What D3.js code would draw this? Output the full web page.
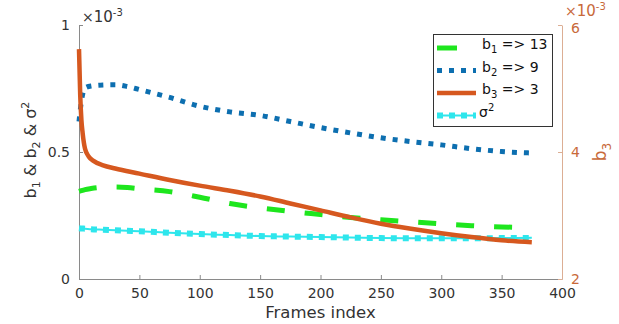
<!DOCTYPE html>
<html>
<head>
<meta charset="utf-8">
<script src="https://cdn.jsdelivr.net/npm/d3@7/dist/d3.min.js"></script>
<style>
  html, body { margin: 0; padding: 0; background: #fff; }
  svg { display: block; font-family: "DejaVu Sans", sans-serif; }
</style>
</head>
<body>
<svg id="chart" width="619" height="324"></svg>
<script>
// Frame indices shared by b1, b2 and sigma^2 (values in units of 1e-3)
const frames = [0, 2, 5, 10, 20, 30, 40, 50, 75, 100, 125, 150, 175, 200, 225, 250, 275, 300, 325, 350, 375];
const b1 = [0.345, 0.348, 0.352, 0.356, 0.361, 0.362, 0.360, 0.355, 0.344, 0.322, 0.297, 0.280, 0.266, 0.254, 0.242, 0.233, 0.225, 0.217, 0.210, 0.205, 0.202];
const b2 = [0.620, 0.700, 0.752, 0.760, 0.764, 0.765, 0.758, 0.746, 0.715, 0.680, 0.658, 0.644, 0.620, 0.596, 0.575, 0.556, 0.541, 0.528, 0.513, 0.502, 0.496];
const sigma2 = [0.200, 0.199, 0.198, 0.196, 0.194, 0.192, 0.190, 0.188, 0.182, 0.177, 0.173, 0.169, 0.167, 0.165, 0.163, 0.161, 0.160, 0.160, 0.160, 0.161, 0.162];

// b3 on the right axis (units of 1e-3), denser sampling over the initial drop
const framesB3 = [0, 1, 2, 3, 5, 8, 12, 20, 30, 50, 75, 100, 125, 150, 175, 200, 225, 250, 275, 300, 325, 350, 375];
const b3 = [5.62, 4.90, 4.50, 4.30, 4.05, 3.93, 3.86, 3.79, 3.74, 3.66, 3.56, 3.47, 3.39, 3.30, 3.19, 3.08, 2.97, 2.87, 2.79, 2.72, 2.66, 2.61, 2.58];

const xTicks = [0, 50, 100, 150, 200, 250, 300, 350, 400];
const yLeftTicks = [0, 0.5, 1];
const yRightTicks = [2, 4, 6];

const legendLabels = [
  { base: "b", sub: "1", rest: " => 13" },
  { base: "b", sub: "2", rest: " => 9" },
  { base: "b", sub: "3", rest: " => 3" },
  { base: "\u03c3", sup: "2", rest: "" }
];

const C = {
  green: "#1ee61e",
  blue: "#0d6fb0",
  orange: "#d6581f",
  cyan: "#2ee6ec",
  axis: "#8a8a8a",
  text: "#333333",
  rAxis: "#dcae94",
  rText: "#c8693a"
};

const svg = d3.select("#chart");
const L = 79, R = 562, T = 25, B = 279;

const x = d3.scaleLinear().domain([0, 400]).range([L, R]);
const yL = d3.scaleLinear().domain([0, 1]).range([B, T]);
const yR = d3.scaleLinear().domain([2, 6]).range([B, T]);

// Axes (inward ticks)
const xAxis = d3.axisBottom(x).tickValues(xTicks).tickSizeInner(-4).tickSizeOuter(0).tickPadding(9).tickFormat(d3.format("d"));
const gx = svg.append("g").attr("transform", `translate(0,${B})`).call(xAxis);
gx.select(".domain").attr("stroke", C.axis);
gx.selectAll(".tick line").attr("stroke", C.axis);
gx.selectAll(".tick text").attr("fill", C.text).style("font-size", "14px").style("font-family", "DejaVu Sans");

const yAxisL = d3.axisLeft(yL).tickValues(yLeftTicks).tickSizeInner(-4).tickSizeOuter(0).tickPadding(9).tickFormat(d => d === 0.5 ? "0.5" : d3.format("d")(d));
const gyl = svg.append("g").attr("transform", `translate(${L},0)`).call(yAxisL);
gyl.select(".domain").attr("stroke", C.axis);
gyl.selectAll(".tick line").attr("stroke", C.axis);
gyl.selectAll(".tick text").attr("fill", C.text).style("font-size", "14px").style("font-family", "DejaVu Sans");

const yAxisR = d3.axisRight(yR).tickValues(yRightTicks).tickSizeInner(-4).tickSizeOuter(0).tickPadding(9).tickFormat(d3.format("d"));
const gyr = svg.append("g").attr("transform", `translate(${R},0)`).call(yAxisR);
gyr.select(".domain").attr("stroke", C.rAxis);
gyr.selectAll(".tick line").attr("stroke", C.rAxis);
gyr.selectAll(".tick text").attr("fill", C.rText).style("font-size", "14px").style("font-family", "DejaVu Sans")
  .attr("dy", d => d === 6 ? "0.5em" : "0.32em");

// Exponent labels
function exponent(xp, yp, color) {
  const t = svg.append("text").attr("x", xp).attr("y", yp).attr("fill", color).style("font-size", "14px");
  t.append("tspan").text("\u00d7");
  t.append("tspan").text("10").style("font-size", "15px");
  t.append("tspan").attr("dy", -6).text("-3").style("font-size", "10px");
}
exponent(82, 22, C.text);
exponent(565, 16, C.rText);

// Axis titles
svg.append("text").attr("x", (L + R) / 2).attr("y", 318).attr("text-anchor", "middle")
  .attr("fill", C.text).style("font-size", "16.5px").text("Frames index");

const yl = svg.append("text").attr("transform", `translate(36,150) rotate(-90)`).attr("text-anchor", "middle")
  .attr("fill", C.text).style("font-size", "16px");
yl.append("tspan").text("b");
yl.append("tspan").attr("dy", 4).style("font-size", "11px").text("1");
yl.append("tspan").attr("dy", -4).text(" & b");
yl.append("tspan").attr("dy", 4).style("font-size", "11px").text("2");
yl.append("tspan").attr("dy", -4).text(" & \u03c3");
yl.append("tspan").attr("dy", -7).style("font-size", "11px").text("2");

const yr = svg.append("text").attr("transform", `translate(606,152) rotate(-90)`).attr("text-anchor", "middle")
  .attr("fill", C.rText).style("font-size", "17px");
yr.append("tspan").text("b");
yr.append("tspan").attr("dy", 5).style("font-size", "12px").text("3");

// Series
const lineL = (vals, fr) => d3.line().x((d, i) => x(fr[i])).y(d => yL(d)).curve(d3.curveMonotoneX)(vals);
const lineR = (vals, fr) => d3.line().x((d, i) => x(fr[i])).y(d => yR(d)).curve(d3.curveMonotoneX)(vals);

// sigma^2: thin line with square dots
svg.append("path").attr("d", lineL(sigma2, frames)).attr("fill", "none").attr("stroke", C.cyan).attr("stroke-width", 2);
svg.append("path").attr("d", lineL(sigma2, frames)).attr("fill", "none").attr("stroke", C.cyan)
  .attr("stroke-width", 6).attr("stroke-dasharray", "6,6");

// b1 dashed
svg.append("path").attr("d", lineL(b1, frames)).attr("fill", "none").attr("stroke", C.green)
  .attr("stroke-width", 5).attr("stroke-dasharray", "18,20");

// b2 dotted
svg.append("path").attr("d", lineL(b2, frames)).attr("fill", "none").attr("stroke", C.blue)
  .attr("stroke-width", 5).attr("stroke-dasharray", "5,7");

// b3 solid on right axis
svg.append("path").attr("d", lineR(b3, framesB3)).attr("fill", "none").attr("stroke", C.orange)
  .attr("stroke-width", 4.5).attr("stroke-linejoin", "round");

// Legend
const lg = svg.append("g");
lg.append("rect").attr("x", 433.5).attr("y", 34.5).attr("width", 119).attr("height", 92)
  .attr("fill", "#fff").attr("stroke", "#333").attr("stroke-width", 1);
const rowY = [48, 70.5, 93, 115.5];
const styles = [
  { c: C.green, w: 5, dash: "20,20" },
  { c: C.blue, w: 5, dash: "5,7" },
  { c: C.orange, w: 4.5, dash: null },
  { c: C.cyan, w: 6, dash: "6,6", under: true }
];
styles.forEach((s, i) => {
  if (s.under) {
    lg.append("line").attr("x1", 437).attr("x2", 476).attr("y1", rowY[i]).attr("y2", rowY[i])
      .attr("stroke", s.c).attr("stroke-width", 2);
  }
  const ln = lg.append("line").attr("x1", 437).attr("x2", 476).attr("y1", rowY[i]).attr("y2", rowY[i])
    .attr("stroke", s.c).attr("stroke-width", s.w);
  if (s.dash) ln.attr("stroke-dasharray", s.dash);
  const lab = legendLabels[i];
  const t = lg.append("text").attr("x", i === 3 ? 479 : 482).attr("y", rowY[i] + 1)
    .attr("fill", "#111").style("font-size", "14px");
  t.append("tspan").text(lab.base);
  if (lab.sub) {
    t.append("tspan").attr("dy", 4).style("font-size", "10px").text(lab.sub);
    t.append("tspan").attr("dy", -4).text(lab.rest);
  } else {
    t.append("tspan").attr("dy", -6).style("font-size", "10px").text(lab.sup);
  }
});
</script>
</body>
</html>
